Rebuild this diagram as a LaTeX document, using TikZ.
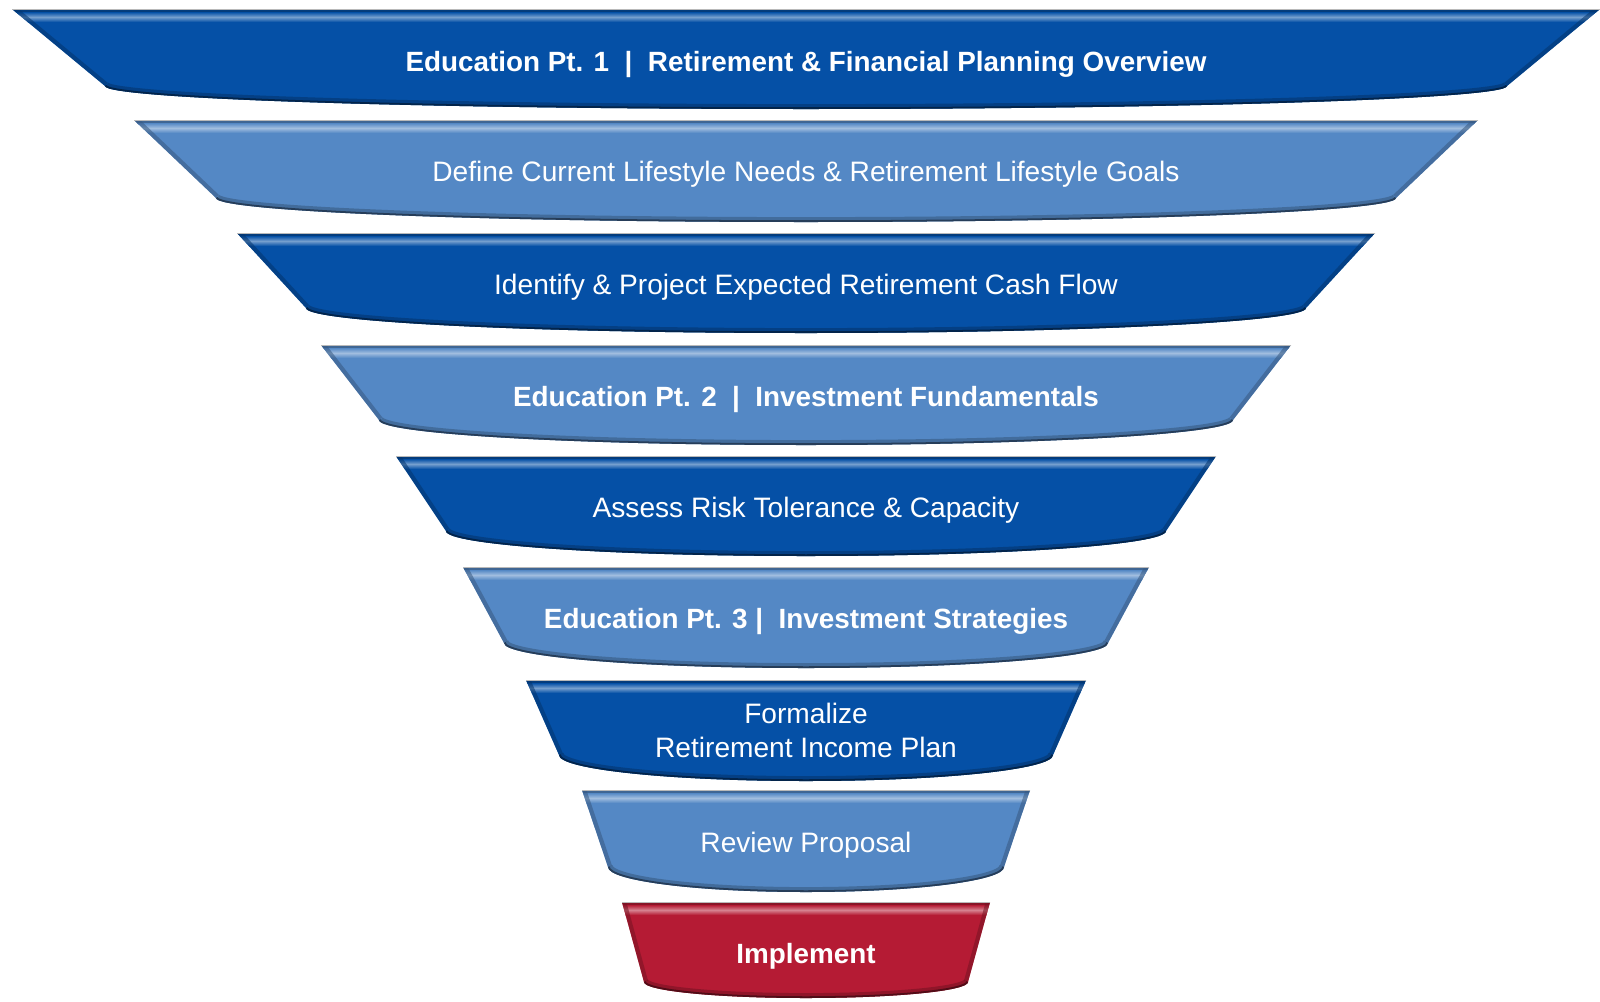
\documentclass[tikz,border=0pt]{standalone}
\usepackage{fontspec}
\setmainfont{Liberation Sans}

\definecolor{stepdark}{RGB}{5,80,166}
\definecolor{steplight}{RGB}{84,136,197}
\definecolor{stepred}{RGB}{181,27,52}

\begin{document}
\begin{tikzpicture}[x=0.025cm, y=-0.025cm,
bandtext/.style={text=white, font=\fontsize{20}{24}\selectfont, align=center, anchor=base, inner sep=0pt},
bandbold/.style={bandtext, font=\fontsize{19.8}{24}\selectfont\bfseries},
]
\useasboundingbox (0,0) rectangle (1600,1001);

% funnel bands: top y / top half width / corner half width / corner y / bottom y / colour
\foreach \yt/\wt/\wb/\yb/\ym/\col in {
    9/794/701/86/109/stepdark,
    120/672/590/198/222/steplight,
    233/569/500/308/333/stepdark,
    345/485/427/420/445/steplight,
    456/410/360/531/556/stepdark,
    567/343/302/643/668/steplight,
    680/280/247/755/781/stepdark,
    790/224/198/867/892/steplight,
    902/184/162/982/998/stepred}{
  \begin{scope}
    \clip (806-\wt,\yt) -- (806+\wt,\yt) -- (806+\wb,\yb)
      arc[start angle=0, end angle=180, x radius=\wb, y radius=\ym-\yb] -- cycle;
    \fill[\col] (0,\yt) rectangle (1600,\ym+2);
    % glossy strip under the top edge
    \fill[\col!75!black] (0,\yt) rectangle (1600,\yt+4);
    \shade[top color=\col, bottom color=\col, middle color=\col!55!white] (0,\yt+3) rectangle (1600,\yt+13);
    % bevelled sides and rim
    \draw[\col!65!black, line width=6pt, opacity=0.55] (806-\wt,\yt) -- (806-\wb,\yb);
    \draw[\col!65!black, line width=6pt, opacity=0.55] (806+\wt,\yt) -- (806+\wb,\yb);
    \draw[\col!55!black, line width=7pt, opacity=0.45] (806+\wb,\yb)
      arc[start angle=0, end angle=180, x radius=\wb, y radius=\ym-\yb];
    \draw[\col!45!black, line width=2.5pt] (806+\wb,\yb)
      arc[start angle=0, end angle=180, x radius=\wb, y radius=\ym-\yb];
  \end{scope}
  \draw[gray!55, line width=0.6pt] (806-\wt,\yt) -- (806+\wt,\yt);
}

\node[bandbold] (edu1) at (806,71) {Education Pt. 1\ \ |\ \ Retirement \& Financial Planning Overview};
\node[bandtext] (lifestyle) at (806,181) {Define Current Lifestyle Needs \& Retirement Lifestyle Goals};
\node[bandtext] (cashflow) at (806,294) {Identify \& Project Expected Retirement Cash Flow};
\node[bandbold] (edu2) at (806,406) {Education Pt. 2\ \ |\ \ Investment Fundamentals};
\node[bandtext] (risk) at (806,517) {Assess Risk Tolerance \& Capacity};
\node[bandbold] (edu3) at (806,628) {Education Pt. 3 |\ \ Investment Strategies};
\node[bandtext] (formalize) at (806,757) {Formalize\\Retirement Income Plan};
\node[bandtext] (review) at (806,852) {Review Proposal};
\node[bandbold] (implement) at (806,963) {Implement};
\end{tikzpicture}
\end{document}
